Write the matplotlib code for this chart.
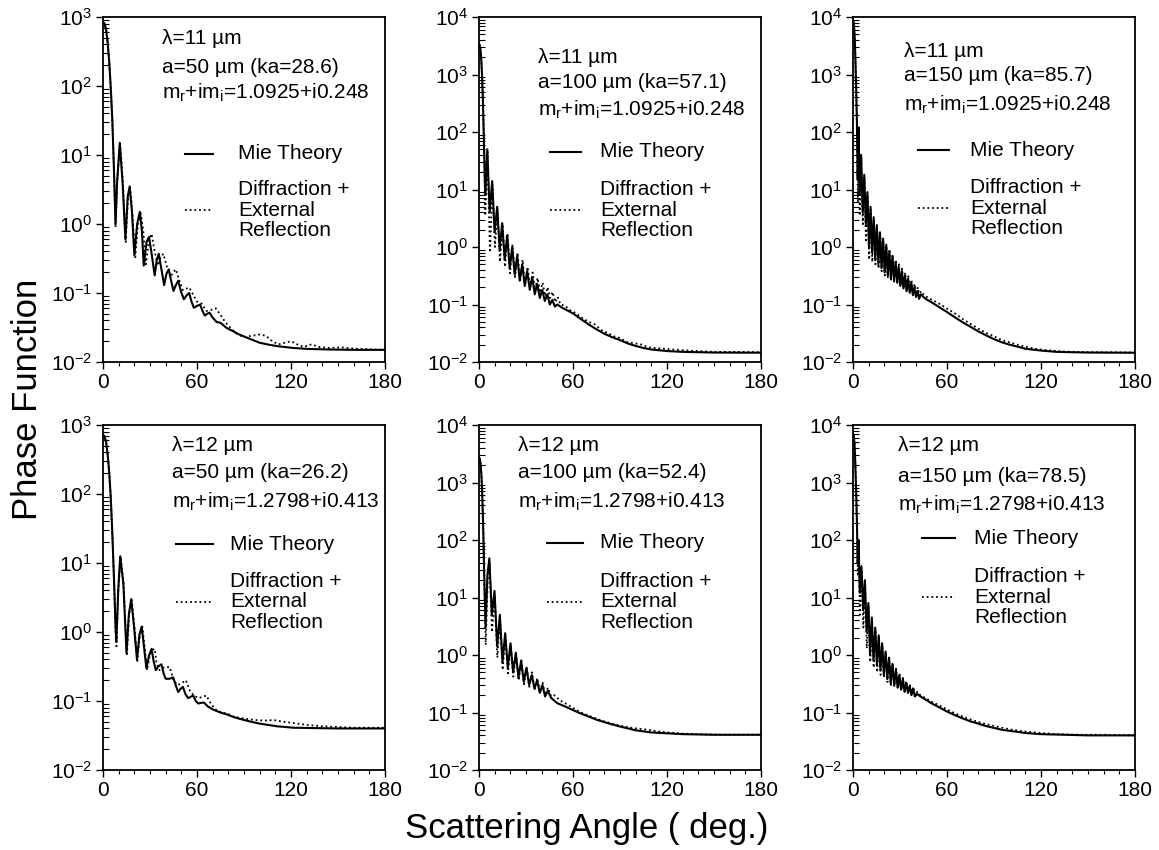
import matplotlib
matplotlib.use("Agg")
import matplotlib.pyplot as plt
from matplotlib.ticker import FixedLocator, MultipleLocator, LogLocator, NullFormatter

plt.rcParams['font.family'] = ['Liberation Sans', 'DejaVu Sans']
plt.rcParams['mathtext.fontset'] = 'custom'
plt.rcParams['mathtext.rm'] = 'Liberation Sans'
plt.rcParams['mathtext.it'] = 'Liberation Sans:italic'
plt.rcParams['mathtext.default'] = 'regular'

# ---- data (angle in deg, phase function) ----
# lambda = 11 um, a = 50 um
p1_ang_mie = [0, 1, 2, 3, 4, 5, 6, 7, 8, 9, 10.7, 12.5, 14.3, 15.8, 17, 18.5, 20, 21.8, 23.5, 24.8,
              26, 27.8, 29.4, 31.2, 33, 34.3, 35.6, 37.3, 39, 40.5, 42, 43.5, 45, 46.5, 48, 49.8, 51.6, 53.3, 55, 56.5,
              58, 60, 62, 63.5, 65, 66.5, 68, 70, 72.5, 75, 79, 83, 87, 93, 100, 106, 111, 121, 130, 143, 160, 180]
p1_mie = [850, 800, 650, 420, 220, 90, 30, 6, 1.0, 4, 15, 4, 0.6, 2.5, 3.5, 1.5, 0.35, 1.0, 1.5, 0.8,
          0.25, 0.55, 0.65, 0.35, 0.18, 0.3, 0.37, 0.22, 0.13, 0.19, 0.22, 0.15, 0.107, 0.13, 0.15, 0.105, 0.081, 0.092, 0.1, 0.075,
          0.061, 0.065, 0.068, 0.055, 0.047, 0.05, 0.052, 0.044, 0.038, 0.037, 0.031, 0.028, 0.025, 0.022, 0.019, 0.0178, 0.017, 0.016, 0.0155, 0.0152, 0.015, 0.015]
p1_ang_dif = [0, 1, 2, 3, 4, 5, 6, 7, 8, 9, 10.9, 12.7, 14.5, 16, 17.3, 18.8, 20.6, 22.3, 24, 25.7,
              27.3, 29.2, 31, 33, 35, 36.8, 38.5, 40.8, 43, 44.8, 46.5, 48.8, 51, 53, 55, 57.5, 60, 63, 66, 69,
              72, 75, 78, 82, 86, 90, 95, 100, 104, 108, 112, 116, 120, 124, 128, 133, 138, 144, 152, 162, 172, 180]
p1_dif = [850, 800, 650, 420, 220, 90, 30, 6, 0.9, 4, 15, 4, 0.55, 2.5, 3.5, 1.4, 0.33, 1.0, 1.5, 0.8,
          0.26, 0.55, 0.72, 0.4, 0.25, 0.33, 0.37, 0.24, 0.17, 0.2, 0.22, 0.15, 0.11, 0.115, 0.12, 0.095, 0.075, 0.07, 0.055, 0.057,
          0.06, 0.048, 0.038, 0.03, 0.025, 0.023, 0.024, 0.025, 0.024, 0.02, 0.018, 0.019, 0.02, 0.018, 0.0165, 0.018, 0.0165, 0.016, 0.0163, 0.0155, 0.0152, 0.015]

# lambda = 11 um, a = 100 um
p2_ang_mie = [0, 0.5, 1, 1.5, 2, 2.5, 3, 3.5, 4, 5.3, 6.8, 8.4, 10, 11.6, 13.2, 14.8, 16.4, 18, 19.6, 21.2,
              22.8, 24.4, 26, 27.6, 29.2, 30.8, 32.4, 34, 35.6, 37.2, 38.8, 40.4, 42, 43.6, 45.2, 46.8, 48.4, 50, 53, 56,
              60, 65, 70, 75, 80, 85, 90, 95, 100, 105, 110, 120, 130, 150, 180]
p2_mie = [3400, 3200, 2600, 1700, 900, 350, 100, 25, 8, 50, 4, 14, 1.8, 5, 0.9, 2.6, 0.6, 1.6, 0.42, 1.0,
          0.33, 0.7, 0.26, 0.5, 0.21, 0.38, 0.18, 0.3, 0.15, 0.23, 0.13, 0.18, 0.115, 0.15, 0.1, 0.12, 0.092, 0.1, 0.088, 0.08,
          0.07, 0.056, 0.045, 0.037, 0.031, 0.027, 0.024, 0.021, 0.019, 0.0175, 0.0165, 0.0155, 0.015, 0.0146, 0.0145]
p2_ang_dif = [0, 0.5, 1, 1.5, 2, 2.5, 3, 3.5, 4, 5.4, 7, 8.6, 10.2, 11.8, 13.4, 15, 16.6, 18.2, 19.8, 21.4,
              23, 24.6, 26.2, 27.8, 29.4, 31, 32.6, 34.2, 35.8, 37.4, 39, 40.6, 42.2, 43.8, 45.4, 47, 48.6, 50.2, 52, 55,
              58, 62, 66, 70, 74, 78, 82, 86, 90, 95, 100, 104, 108, 112, 118, 124, 130, 140, 150, 165, 180]
p2_dif = [3400, 3200, 2600, 1700, 900, 350, 100, 25, 3.5, 45, 0.8, 12, 1.0, 4.5, 0.55, 2.5, 0.45, 1.7, 0.35, 1.1,
          0.3, 0.8, 0.25, 0.6, 0.22, 0.45, 0.2, 0.36, 0.18, 0.29, 0.16, 0.24, 0.14, 0.2, 0.13, 0.165, 0.11, 0.135, 0.1, 0.095,
          0.08, 0.07, 0.058, 0.05, 0.045, 0.036, 0.032, 0.028, 0.026, 0.022, 0.021, 0.02, 0.018, 0.0175, 0.017, 0.0165, 0.016, 0.0155, 0.015, 0.015, 0.0148]

# lambda = 11 um, a = 150 um
p3_ang_mie = [0, 0.5, 1, 1.5, 2, 2.5, 3, 3.6, 4.2, 5.2, 6.2, 7.2, 8.2, 9.2, 10.2, 11.2, 12.2, 13.2, 14.2, 15.2,
              16.2, 17.2, 18.2, 19.2, 20.2, 21.2, 22.2, 23.2, 24.2, 25.2, 26.2, 27.2, 28.2, 29.2, 30.2, 31.2, 32.2, 33.2, 34.2, 35.2,
              36.2, 37.2, 38.2, 39.2, 40.2, 41.2, 42.2, 43.2, 45, 47, 50, 55, 60, 65, 70, 75, 80, 85, 90, 95,
              100, 105, 110, 120, 130, 150, 180]
p3_mie = [9000, 8000, 5000, 2000, 600, 150, 15, 120, 8, 40, 4, 18, 2.5, 9, 1.0, 5, 0.8, 3.3, 0.6, 2.4,
          0.5, 1.8, 0.43, 1.4, 0.36, 1.1, 0.32, 0.85, 0.28, 0.7, 0.26, 0.55, 0.24, 0.45, 0.21, 0.38, 0.19, 0.32, 0.17, 0.28,
          0.16, 0.24, 0.145, 0.2, 0.135, 0.17, 0.125, 0.15, 0.135, 0.122, 0.11, 0.09, 0.074, 0.06, 0.049, 0.041, 0.034, 0.029, 0.025, 0.022,
          0.02, 0.0185, 0.017, 0.0158, 0.015, 0.0146, 0.0145]
p3_ang_dif = [0, 0.5, 1, 1.5, 2, 2.5, 3.1, 3.7, 4.3, 5.3, 6.3, 7.3, 8.3, 9.3, 10.3, 11.3, 12.3, 13.3, 14.3, 15.3,
              16.3, 17.3, 18.3, 19.3, 20.3, 21.3, 22.3, 23.3, 24.3, 25.3, 26.3, 27.3, 28.3, 29.3, 30.3, 31.3, 32.3, 33.3, 34.3, 35.3,
              36.3, 37.3, 38.3, 39.3, 40.3, 41.3, 42.3, 43.3, 45, 48, 52, 56, 60, 65, 70, 75, 80, 85, 90, 95,
              100, 105, 110, 116, 122, 130, 140, 155, 180]
p3_dif = [9000, 8000, 5000, 2000, 600, 150, 6, 110, 3.5, 35, 2.5, 16, 1.2, 8, 0.6, 4.5, 0.55, 3, 0.5, 2.2,
          0.42, 1.7, 0.38, 1.3, 0.32, 1.05, 0.29, 0.85, 0.27, 0.72, 0.25, 0.6, 0.23, 0.5, 0.21, 0.42, 0.2, 0.36, 0.18, 0.31,
          0.17, 0.27, 0.16, 0.23, 0.15, 0.2, 0.14, 0.17, 0.15, 0.13, 0.115, 0.1, 0.085, 0.07, 0.056, 0.046, 0.038, 0.032, 0.028, 0.024,
          0.022, 0.02, 0.0185, 0.017, 0.0162, 0.0155, 0.015, 0.0148, 0.0146]

# lambda = 12 um, a = 50 um
p4_ang_mie = [0, 1, 2, 3, 4, 5, 6, 7, 8, 8.5, 9.7, 11, 13, 15, 16.5, 18, 19.8, 21.7, 23.2, 24.7,
              26.2, 27.7, 29.3, 31, 32.3, 33.7, 35.5, 37.3, 38.7, 40, 42.4, 44.8, 46.4, 48, 49.5, 51, 52.7, 54.4, 56, 57.6,
              59.2, 60.8, 62.6, 64.4, 67, 70.4, 75, 79, 83, 87.4, 93, 100, 111, 121.5, 135, 150, 165, 180]
p4_mie = [720, 680, 560, 370, 200, 85, 25, 6, 1.2, 0.73, 4, 12.5, 5, 0.5, 1.8, 3, 1.2, 0.4, 0.9, 1.2,
          0.6, 0.3, 0.45, 0.57, 0.38, 0.28, 0.32, 0.34, 0.25, 0.21, 0.21, 0.22, 0.17, 0.135, 0.15, 0.16, 0.125, 0.11, 0.115, 0.12,
          0.1, 0.092, 0.094, 0.095, 0.083, 0.075, 0.068, 0.064, 0.059, 0.055, 0.051, 0.047, 0.043, 0.041, 0.0405, 0.04, 0.04, 0.04]
p4_ang_dif = [0, 1, 2, 3, 4, 5, 6, 7, 8, 8.6, 9.8, 11.2, 13.2, 15.2, 16.7, 18.3, 20, 21.9, 23.5, 25,
              26.6, 28.1, 29.8, 31.5, 33, 34.2, 36, 38, 40, 42.6, 45, 47.5, 50, 52.9, 55.5, 58, 61, 63.5, 66, 69,
              72, 75.5, 79, 83, 87, 92, 97, 103, 109, 115, 121.5, 130, 140, 150, 160, 170, 180]
p4_dif = [720, 680, 560, 370, 200, 85, 25, 6, 1.0, 0.62, 4, 12.5, 5, 0.45, 1.8, 3, 1.2, 0.38, 0.9, 1.25,
          0.6, 0.28, 0.45, 0.55, 0.57, 0.35, 0.28, 0.3, 0.31, 0.31, 0.2, 0.17, 0.18, 0.2, 0.14, 0.12, 0.11, 0.115, 0.12, 0.09,
          0.075, 0.068, 0.066, 0.06, 0.057, 0.055, 0.053, 0.052, 0.053, 0.05, 0.048, 0.045, 0.043, 0.042, 0.041, 0.041, 0.041]

# lambda = 12 um, a = 100 um
p5_ang_mie = [0, 0.5, 1, 1.5, 2, 2.5, 3, 3.5, 4.2, 5.4, 6.6, 8.2, 9.9, 11.6, 13.3, 15, 16.7, 18.4, 20.1, 21.8,
              23.5, 25.2, 26.9, 28.6, 30.3, 32, 33.7, 35.4, 37.1, 38.8, 40.5, 42.2, 43.9, 46, 50, 55, 60, 65, 70, 75,
              80, 85, 90, 95, 100, 105, 110, 120, 130, 150, 180]
p5_mie = [2700, 2600, 2100, 1400, 700, 250, 70, 15, 3, 25, 48, 5, 13, 1.4, 5, 0.75, 2.4, 0.6, 1.6, 0.5,
          1.1, 0.4, 0.8, 0.34, 0.6, 0.3, 0.45, 0.26, 0.36, 0.22, 0.3, 0.19, 0.24, 0.18, 0.145, 0.127, 0.11, 0.096, 0.085, 0.075,
          0.068, 0.062, 0.057, 0.053, 0.049, 0.047, 0.045, 0.0435, 0.042, 0.041, 0.041]
p5_ang_dif = [0, 0.5, 1, 1.5, 2, 2.5, 3, 3.5, 4.3, 5.5, 6.7, 8.3, 10, 11.7, 13.4, 15.1, 16.8, 18.5, 20.2, 21.9,
              23.6, 25.3, 27, 28.7, 30.4, 32.1, 33.8, 35.5, 37.2, 38.9, 40.6, 42.3, 44, 46, 48, 52, 56, 60, 65, 70,
              75, 80, 85, 90, 96, 102, 108, 114, 120, 130, 140, 155, 180]
p5_dif = [2700, 2600, 2100, 1400, 700, 250, 70, 15, 1.5, 20, 42, 2.5, 11, 0.9, 4.5, 0.55, 2.2, 0.48, 1.5, 0.42,
          1.05, 0.36, 0.8, 0.31, 0.62, 0.28, 0.5, 0.25, 0.4, 0.22, 0.33, 0.2, 0.27, 0.19, 0.2, 0.16, 0.14, 0.12, 0.1, 0.088,
          0.078, 0.07, 0.064, 0.059, 0.055, 0.052, 0.05, 0.047, 0.045, 0.043, 0.042, 0.041, 0.041]

# lambda = 12 um, a = 150 um
p6_ang_mie = [0, 0.5, 1, 1.5, 2, 2.5, 3, 3.6, 4.3, 5.4, 6.5, 7.6, 8.7, 9.8, 10.9, 12, 13.1, 14.2, 15.3, 16.4,
              17.5, 18.6, 19.7, 20.8, 21.9, 23, 24.1, 25.2, 26.3, 27.4, 28.5, 29.6, 30.7, 31.8, 32.9, 34, 35.1, 36.2, 37.3, 38.4,
              39.5, 41, 43, 46, 50, 55, 60, 65, 70, 75, 80, 85, 90, 95, 100, 105, 110, 120, 135, 150, 180]
p6_mie = [7000, 6500, 4500, 2000, 700, 200, 40, 100, 12, 35, 6, 20, 2.5, 8, 1.0, 4.5, 0.8, 3, 0.65, 2.2,
          0.55, 1.6, 0.45, 1.15, 0.38, 0.9, 0.32, 0.7, 0.3, 0.55, 0.27, 0.45, 0.25, 0.38, 0.23, 0.33, 0.22, 0.29, 0.2, 0.26,
          0.19, 0.21, 0.19, 0.17, 0.145, 0.123, 0.104, 0.09, 0.079, 0.07, 0.064, 0.058, 0.054, 0.05, 0.048, 0.046, 0.044, 0.042, 0.041, 0.04, 0.04]
p6_ang_dif = [0, 0.5, 1, 1.5, 2, 2.5, 3.1, 3.7, 4.4, 5.5, 6.6, 7.7, 8.8, 9.9, 11, 12.1, 13.2, 14.3, 15.4, 16.5,
              17.6, 18.7, 19.8, 20.9, 22, 23.1, 24.2, 25.3, 26.4, 27.5, 28.6, 29.7, 30.8, 31.9, 33, 34.1, 35.2, 36.3, 37.4, 38.5,
              39.6, 41, 43, 46, 50, 55, 60, 65, 70, 76, 82, 88, 94, 100, 106, 112, 120, 130, 145, 160, 180]
p6_dif = [7000, 6500, 4500, 2000, 700, 200, 25, 90, 5, 30, 3, 17, 1.3, 7, 0.75, 4, 0.6, 2.7, 0.5, 2.0,
          0.45, 1.5, 0.4, 1.1, 0.34, 0.88, 0.3, 0.7, 0.28, 0.58, 0.26, 0.48, 0.24, 0.4, 0.23, 0.35, 0.22, 0.31, 0.21, 0.28,
          0.2, 0.23, 0.2, 0.18, 0.155, 0.133, 0.113, 0.097, 0.085, 0.074, 0.066, 0.06, 0.055, 0.051, 0.048, 0.046, 0.044, 0.042, 0.041, 0.041, 0.04]

wavelengths = ['11', '11', '11', '12', '12', '12']
radii = ['50', '100', '150', '50', '100', '150']
ka_values = ['28.6', '57.1', '85.7', '26.2', '52.4', '78.5']
indices = ['1.0925+i0.248', '1.0925+i0.248', '1.0925+i0.248',
           '1.2798+i0.413', '1.2798+i0.413', '1.2798+i0.413']
y_top_exp = [3, 4, 4, 3, 4, 4]

mie_sets = [(p1_ang_mie, p1_mie), (p2_ang_mie, p2_mie), (p3_ang_mie, p3_mie),
            (p4_ang_mie, p4_mie), (p5_ang_mie, p5_mie), (p6_ang_mie, p6_mie)]
dif_sets = [(p1_ang_dif, p1_dif), (p2_ang_dif, p2_dif), (p3_ang_dif, p3_dif),
            (p4_ang_dif, p4_dif), (p5_ang_dif, p5_dif), (p6_ang_dif, p6_dif)]

# ---- layout (axes fractions for the in-panel text) ----
ax_lefts = [103, 479, 853]
ax_w = 282
row_top = [17, 425]
ax_h = 345
# text x, lambda y, a y, m y, legend x0, x1, mie y, text x, "External" y
txt_pos = [
    (0.21, 0.939, 0.855, 0.78, 0.29, 0.39, 0.603, 0.479, 0.44),
    (0.21, 0.884, 0.809, 0.73, 0.25, 0.36, 0.61, 0.43, 0.44),
    (0.18, 0.90, 0.83, 0.745, 0.23, 0.34, 0.614, 0.415, 0.446),
    (0.245, 0.942, 0.861, 0.777, 0.26, 0.39, 0.655, 0.45, 0.487),
    (0.14, 0.942, 0.861, 0.777, 0.24, 0.37, 0.658, 0.43, 0.487),
    (0.16, 0.942, 0.85, 0.768, 0.245, 0.36, 0.672, 0.43, 0.501),
]
line_step = 0.06

W, H = 1159, 850
fig = plt.figure(figsize=(W / 100, H / 100), dpi=100)
fs = 15
dots = (0, (1, 1.6))

for k in range(6):
    r, c = divmod(k, 3)
    ax = fig.add_axes([ax_lefts[c] / W, 1 - (row_top[r] + ax_h) / H, ax_w / W, ax_h / H])
    ax.plot(dif_sets[k][0], dif_sets[k][1], color='black', lw=1.3, ls=dots)
    ax.plot(mie_sets[k][0], mie_sets[k][1], color='black', lw=1.5)
    ax.set_yscale('log')
    ax.set_xlim(0, 180)
    ax.set_ylim(1e-2, 10 ** y_top_exp[k])
    exps = list(range(-2, y_top_exp[k] + 1))
    ax.yaxis.set_major_locator(FixedLocator([10.0 ** e for e in exps]))
    ax.set_yticklabels(['10$^{%d}$' % e for e in exps])
    ax.yaxis.set_minor_locator(LogLocator(base=10, subs=range(2, 10), numticks=20))
    ax.yaxis.set_minor_formatter(NullFormatter())
    ax.xaxis.set_major_locator(MultipleLocator(60))
    ax.xaxis.set_minor_locator(MultipleLocator(10))
    ax.tick_params(which='major', direction='out', length=5, width=1, labelsize=fs, pad=3)
    ax.tick_params(axis='y', which='minor', direction='in', length=4, width=0.8)
    ax.tick_params(axis='x', which='minor', direction='out', length=3, width=0.8)
    for s in ax.spines.values():
        s.set_linewidth(1.3)

    tx, ly, ay, my, lx0, lx1, mly, ltx, ey = txt_pos[k]
    ax.text(tx, ly, '\u03bb=%s \u00b5m' % wavelengths[k], transform=ax.transAxes, fontsize=fs, va='center')
    ax.text(tx, ay, 'a=%s \u00b5m (ka=%s)' % (radii[k], ka_values[k]), transform=ax.transAxes, fontsize=fs, va='center')
    ax.text(tx, my, 'm$_r$+im$_i$=%s' % indices[k], transform=ax.transAxes, fontsize=fs, va='center')
    ax.plot([lx0, lx1], [mly, mly], color='black', lw=1.5, transform=ax.transAxes)
    ax.text(ltx, mly, 'Mie Theory', transform=ax.transAxes, fontsize=fs, va='center')
    ax.plot([lx0, lx1], [ey, ey], color='black', lw=1.3, ls=dots, transform=ax.transAxes)
    ax.text(ltx, ey + line_step, 'Diffraction +', transform=ax.transAxes, fontsize=fs, va='center')
    ax.text(ltx, ey, 'External', transform=ax.transAxes, fontsize=fs, va='center')
    ax.text(ltx, ey - line_step, 'Reflection', transform=ax.transAxes, fontsize=fs, va='center')

fig.text(0.024, 0.53, 'Phase Function', rotation=90, fontsize=25, va='center', ha='center')
fig.text(0.506, 0.025, 'Scattering Angle ( deg.)', fontsize=25, va='center', ha='center')

fig.savefig('out.png', dpi=100)
